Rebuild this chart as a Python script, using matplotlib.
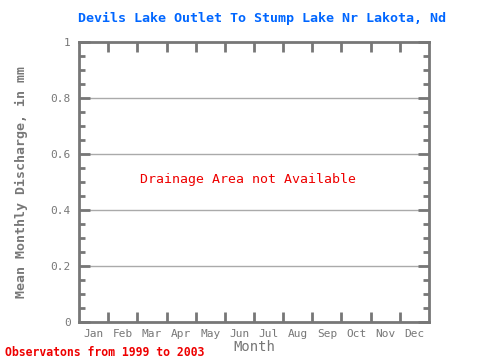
import matplotlib
matplotlib.use("Agg")
import matplotlib.pyplot as plt
from matplotlib.ticker import MultipleLocator, FixedLocator

months = ["Jan", "Feb", "Mar", "Apr", "May", "Jun", "Jul", "Aug", "Sep", "Oct", "Nov", "Dec"]
yticks = [0, 0.2, 0.4, 0.6, 0.8, 1]
ytick_labels = ["0", "0.2", "0.4", "0.6", "0.8", "1"]

gray = "#777777"
mono = "DejaVu Sans Mono"

fig = plt.figure(figsize=(4.8, 3.6), dpi=100)
ax = fig.add_axes([79/480, 1-322/360, 350/480, 280/360])
ax.set_xlim(0, 12)
ax.set_ylim(0, 1)

for y in yticks[1:-1]:
    ax.axhline(y, color="#aaaaaa", lw=1, zorder=0)

for s in ax.spines.values():
    s.set_color(gray)
    s.set_linewidth(2)

ax.xaxis.set_major_locator(FixedLocator(range(1, 12)))
ax.xaxis.set_minor_locator(FixedLocator([i + 0.5 for i in range(12)]))
ax.set_xticklabels([""] * 11)
ax.set_xticklabels(months, minor=True, fontfamily=mono, fontsize=8, color=gray)
ax.tick_params(axis="x", which="major", direction="in", length=7, width=2, color=gray, top=True, bottom=True)
ax.tick_params(axis="x", which="minor", length=0, pad=5)

ax.set_yticks(yticks)
ax.set_yticklabels(ytick_labels, fontfamily=mono, fontsize=8, color=gray)
ax.yaxis.set_minor_locator(MultipleLocator(0.05))
ax.tick_params(axis="y", which="major", direction="in", length=8, width=2, color=gray, left=True, right=True, pad=6)
ax.tick_params(axis="y", which="minor", direction="in", length=4, width=2, color=gray, left=True, right=True)

ax.set_xlabel("Month", fontfamily=mono, fontsize=10, color=gray, labelpad=1)
ax.set_ylabel("Mean Monthly Discharge, in mm", fontfamily=mono, fontsize=9.5, color=gray, fontweight="bold", labelpad=16)

ax.text((248-79)/350, 0.51, "Drainage Area not Available", transform=ax.transAxes, ha="center", va="center",
        fontfamily=mono, fontsize=9.5, color="#ee0000")

fig.text(262/480, 1-18/360, "Devils Lake Outlet To Stump Lake Nr Lakota, Nd", ha="center", va="center",
         fontfamily=mono, fontsize=9.6, fontweight="bold", color="#0066ff")
fig.text(5/480, 1-352/360, "Observatons from 1999 to 2003", ha="left", va="center",
         fontfamily=mono, fontsize=8.3, fontweight="bold", color="#ee0000")

fig.savefig("out.png", dpi=100)
